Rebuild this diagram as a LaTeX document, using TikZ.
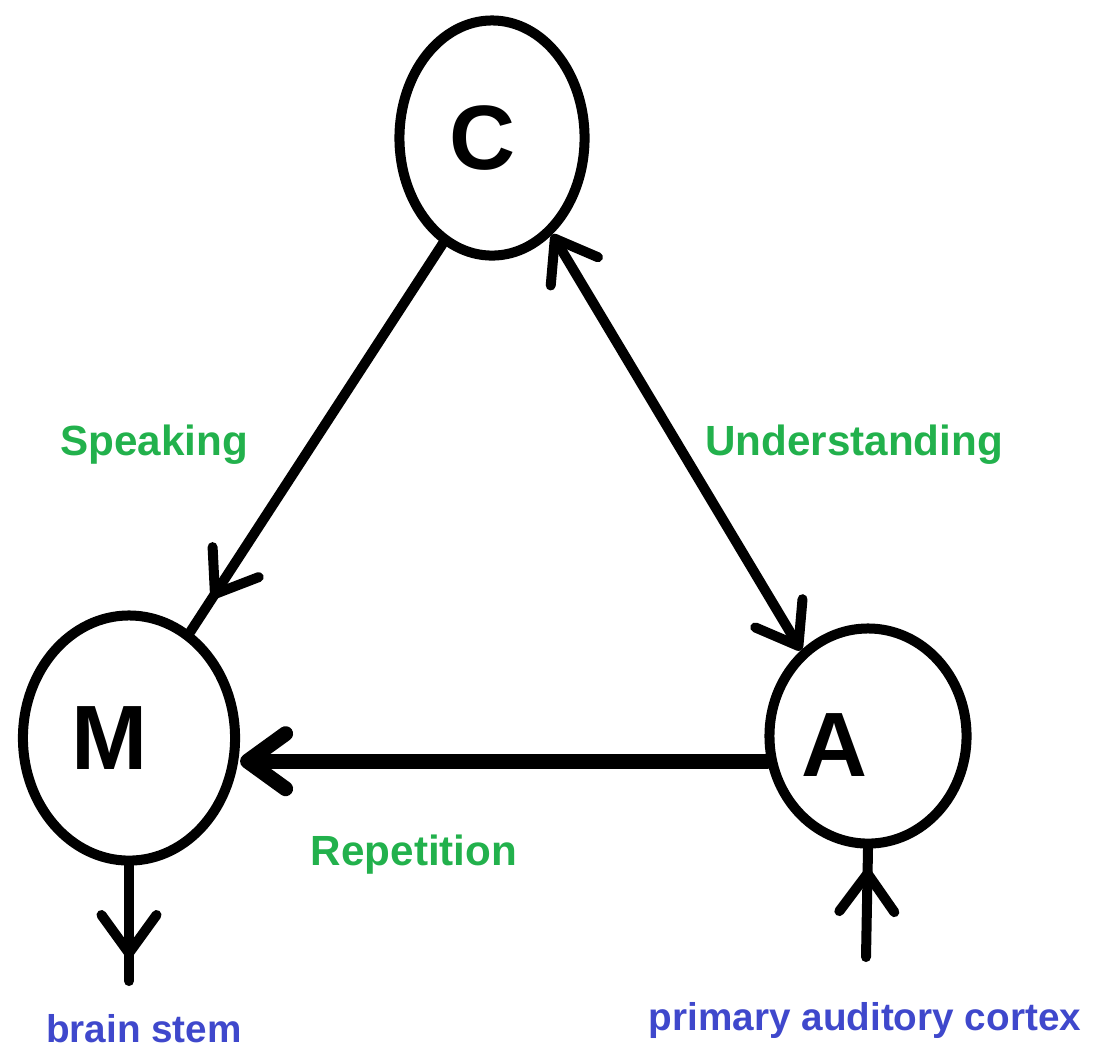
\documentclass[tikz,border=0pt]{standalone}
\usepackage{fontspec}
\setmainfont{Liberation Sans}
\usepackage{tikz}
\usetikzlibrary{shapes.geometric,arrows.meta,decorations.markings}
\definecolor{paintgreen}{RGB}{34,177,76}
\definecolor{paintblue}{RGB}{63,72,204}

\begin{document}
\begin{tikzpicture}[x=0.01cm,y=-0.01cm,
          >={Straight Barb[length=0.38cm,width=0.55cm,line cap=round,line join=round]},
          region/.style={draw,ellipse,line width=0.1cm,inner sep=0pt},
          letter/.style={font=\fontsize{26}{30}\selectfont\bfseries},
          link/.style={line width=0.1cm,line cap=round,line join=round},
          tipnear/.style={postaction={decorate},
                          decoration={markings,mark=at position #1 with {\arrow{>}}}},
          route/.style={font=\fontsize{12}{14}\selectfont\bfseries,text=paintgreen},
          place/.style={font=\fontsize{11}{13}\selectfont\bfseries,text=paintblue}]
        \useasboundingbox (0,0) rectangle (1095,1050);
        \node[region,minimum width=1.85cm,minimum height=2.35cm,
              label={[letter,xshift=-0.09cm]center:C}] (C) at (492,138) {};
        \node[region,minimum width=2.12cm,minimum height=2.45cm,
              label={[letter,xshift=-0.19cm]center:M}] (M) at (129,738) {};
        \node[region,minimum width=1.97cm,minimum height=2.15cm,
              label={[letter,xshift=-0.33cm,yshift=-0.09cm]center:A}] (A) at (868,736) {};
        \coordinate (stemend) at (129,981);
        \coordinate (pacin) at (866,957);
        % the three pathways
        \draw[link,tipnear=-0.4cm] (C.-115) -- (M.60);
        \draw[link,<->] (C.-58) -- (A.128);
        \draw[link,line width=0.15cm,->] (A.194) -- (A.194 -| M.east);
        % in and out of the triangle
        \draw[link,tipnear=-0.23cm] (M.south) -- (stemend);
        \draw[link,tipnear=-0.2cm] (pacin) -- (A.south);
        \node[route,anchor=base] (speak) at (154,455) {Speaking};
        \node[route,anchor=base] (under) at (854,455) {Understanding};
        \node[route,anchor=base] (repeat) at (414,865) {Repetition};
        \node[place,anchor=base] (stem) at (144,1042) {brain stem};
        \node[place,anchor=base] (pac) at (865,1030) {primary auditory cortex};
      \end{tikzpicture}
\end{document}
